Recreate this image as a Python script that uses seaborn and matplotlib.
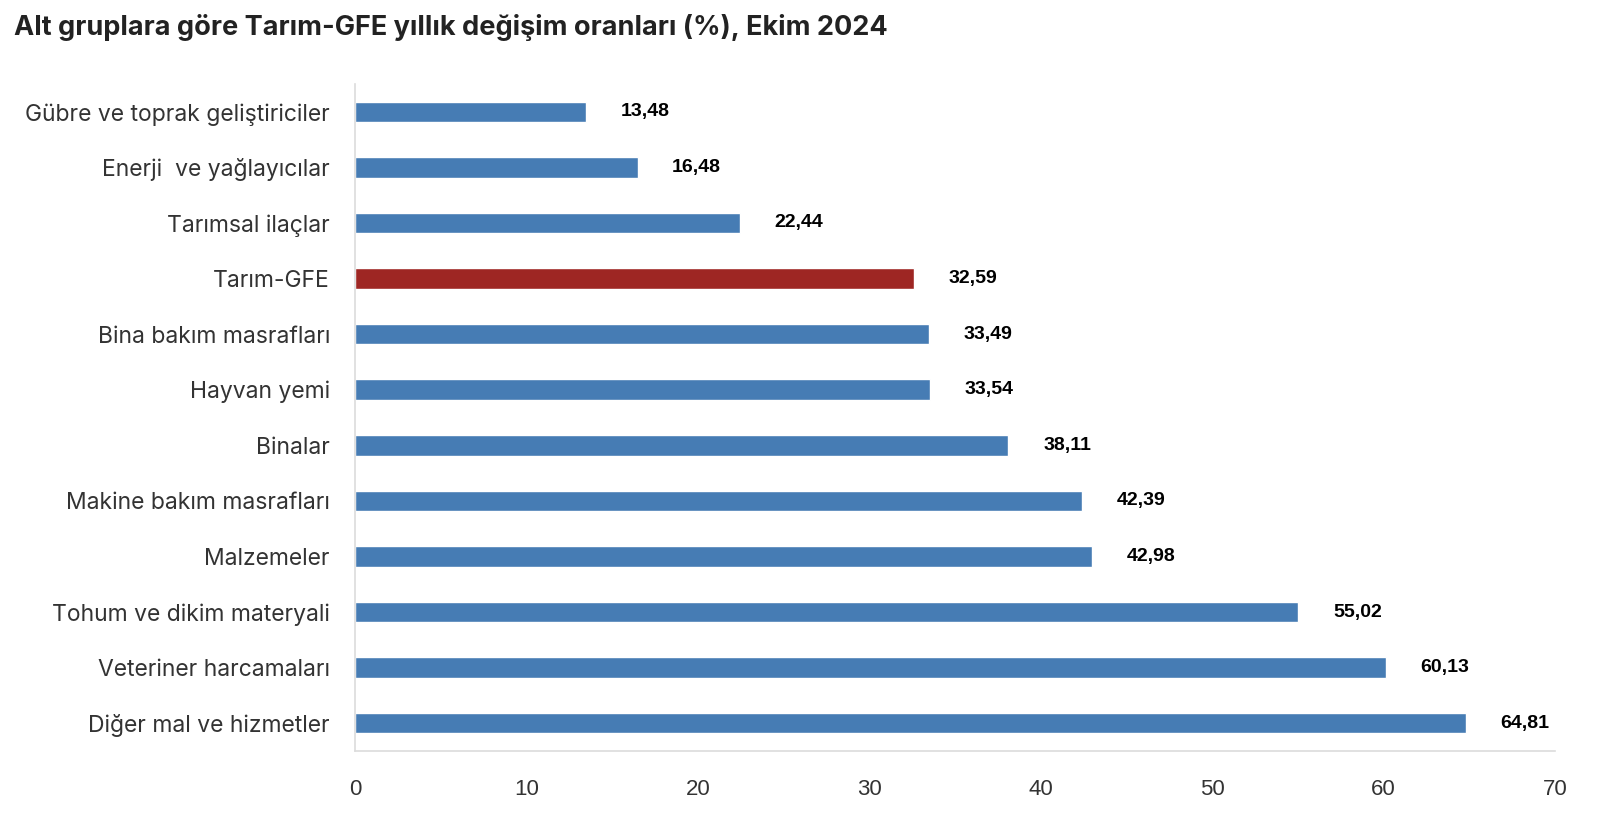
import matplotlib
matplotlib.use("Agg")
import matplotlib.pyplot as plt
import seaborn as sns
import pandas as pd

categories = [
    "Gübre ve toprak geliştiriciler",
    "Enerji  ve yağlayıcılar",
    "Tarımsal ilaçlar",
    "Tarım-GFE",
    "Bina bakım masrafları",
    "Hayvan yemi",
    "Binalar",
    "Makine bakım masrafları",
    "Malzemeler",
    "Tohum ve dikim materyali",
    "Veteriner harcamaları",
    "Diğer mal ve hizmetler",
]
values = [13.48, 16.48, 22.44, 32.59, 33.49, 33.54, 38.11, 42.39, 42.98, 55.02, 60.13, 64.81]
value_labels = ["13,48", "16,48", "22,44", "32,59", "33,49", "33,54", "38,11", "42,39", "42,98", "55,02", "60,13", "64,81"]
x_ticks = [0, 10, 20, 30, 40, 50, 60, 70]

BLUE = "#467CB4"
RED = "#9E2623"
palette = {c: (RED if c == "Tarım-GFE" else BLUE) for c in categories}

df = pd.DataFrame({"cat": categories, "val": values})

sns.set_theme(style="white")
plt.rcParams["font.family"] = ["Inter", "DejaVu Sans"]

fig = plt.figure(figsize=(16.12, 8.14), dpi=100)
ax = fig.add_axes([0.2202, 0.0774, 0.7445, 0.8194])

sns.barplot(data=df, y="cat", x="val", hue="cat", palette=palette, order=categories,
            hue_order=categories, orient="h", width=0.37, legend=False, ax=ax,
            saturation=1)

for i, (v, lab) in enumerate(zip(values, value_labels)):
    ax.annotate(lab, xy=(v, i), xytext=(59 * 0.72, 0), textcoords="offset points",
                ha="center", va="center", fontsize=14, fontweight="bold",
                color="black", family=["Liberation Sans"])

ax.set_xlim(0, 70)
ax.set_ylim(11.5, -0.5)
ax.set_xticks(x_ticks)
ax.set_xticklabels([str(t) for t in x_ticks], fontsize=16, color="#333333",
                   family=["Liberation Sans"])
ax.tick_params(axis="x", length=0, pad=20)
ax.tick_params(axis="y", length=0, pad=18)
for lbl in ax.get_yticklabels():
    lbl.set_fontsize(16.5)
    lbl.set_color("#333333")
ax.set_xlabel("")
ax.set_ylabel("")

for s in ["top", "right"]:
    ax.spines[s].set_visible(False)
ax.spines["left"].set_color("#dcdcdc")
ax.spines["left"].set_linewidth(1.2)
ax.spines["bottom"].set_color("#dcdcdc")
ax.spines["bottom"].set_linewidth(1.2)

fig.text(0.0087, 0.966, "Alt gruplara göre Tarım-GFE yıllık değişim oranları (%), Ekim 2024",
         fontsize=19.5, fontweight="bold", color="#222222", ha="left", va="center")

fig.savefig("out.png", dpi=100)
